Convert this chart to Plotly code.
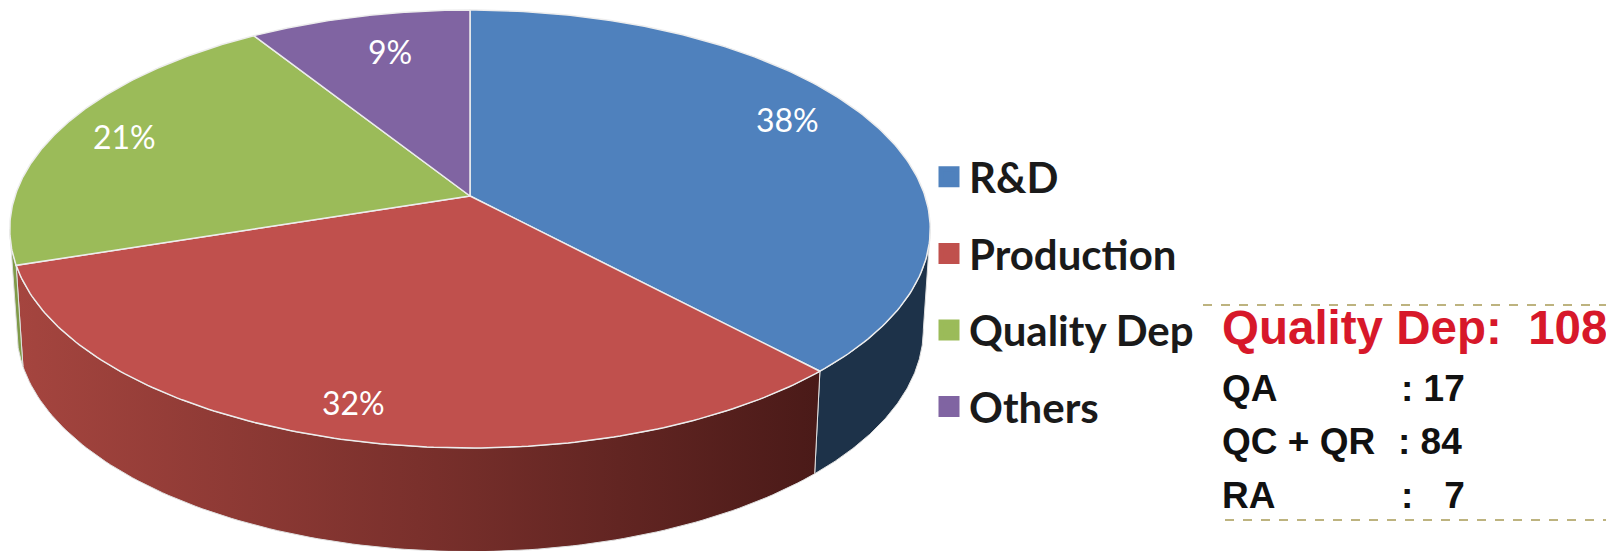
import numpy as np
import plotly.graph_objects as go

departments = ["R&D", "Production", "Quality Dep", "Others"]
shares = [38, 32, 21, 9]
share_labels = ["38%", "32%", "21%", "9%"]
top_colors = ["#4F81BD", "#C0504D", "#9BBB59", "#8064A2"]
wall_colors = [
    [[0, "#1D3249"], [1, "#1D3249"]],
    [[0, "#A5453F"], [0.5, "#7A302C"], [1, "#4A1A18"]],
    [[0, "#7F9A48"], [1, "#7F9A48"]],
    [[0, "#6A5387"], [1, "#6A5387"]],
]
detail_title = "Quality Dep:  108"
detail_names = ["QA", "QC + QR", "RA"]
detail_values = [": 17", ": 84", ":   7"]

# layout constants (page pixels; the page body has an 8 px margin)
PAGE_W, PAGE_H, BODY = 1614, 551, 8
CX, CY, A, B, K = 470.0, 196.0, 214.0, 455.0, 0.1507
DEPTH, SHRINK, BASE_Y_SCALE = 100.0, 0.985, 1.03
LABEL_NUDGE = [(13, -20), (-16, 22), (-36, -7), (4, -8)]
ROW_Y = [388, 441, 495]
ROW_VALUE_X = [1399, 1396, 1399]


def project(theta, lift=0.0, scale=1.0, y_scale=1.0):
    w = 1 + K * np.cos(theta)
    x = CX + scale * B * np.sin(theta) / w
    y = CY - y_scale * scale * A * np.cos(theta) / w + lift
    return x, y


fig = go.Figure()
edges = np.concatenate([[0], np.cumsum(shares)]) / sum(shares) * 2 * np.pi

# walls: only the part of the rim facing the viewer (between silhouette tangents)
tangent = np.arccos(-K)
for i in range(len(shares)):
    lo = max(edges[i], tangent)
    hi = min(edges[i + 1], 2 * np.pi - tangent)
    if hi <= lo:
        continue
    t = np.linspace(lo, hi, 120)
    x1, y1 = project(t)
    x2, y2 = project(t[::-1], DEPTH, SHRINK, BASE_Y_SCALE)
    fig.add_trace(go.Scatter(
        x=np.r_[x1, x2, x1[0]], y=np.r_[y1, y2, y1[0]], mode="lines", fill="toself",
        line=dict(width=1, color="#E0E0E0"), showlegend=False, hoverinfo="skip",
        fillgradient=dict(type="horizontal", colorscale=wall_colors[i]),
    ))

# top face
for i, name in enumerate(departments):
    t = np.linspace(edges[i], edges[i + 1], 160)
    x, y = project(t)
    fig.add_trace(go.Scatter(
        x=np.r_[CX, x, CX], y=np.r_[CY, y, CY], mode="lines", fill="toself",
        fillcolor=top_colors[i], line=dict(color="#EDEDED", width=1.5),
        showlegend=False, hoverinfo="skip",
    ))
    mid = (edges[i] + edges[i + 1]) / 2
    lx, ly = project(np.array([mid]), 0, 0.76)
    fig.add_annotation(x=lx[0] + LABEL_NUDGE[i][0], y=ly[0] + LABEL_NUDGE[i][1],
                       text=share_labels[i], showarrow=False,
                       font=dict(family="Lato", size=32, color="#FFFFFF"))

# legend
for i, name in enumerate(departments):
    fig.add_trace(go.Scatter(
        x=[None], y=[None], mode="markers", name=name, legendgroup=name,
        marker=dict(symbol="square", size=16, color=top_colors[i],
                    line=dict(width=5, color=top_colors[i])),
    ))

# detail panel
fig.add_annotation(x=1220, y=327, text=f"<b>{detail_title}</b>", showarrow=False, xanchor="left",
                   font=dict(family="Liberation Sans", size=47.5, color="#D7182A"))
for name, val, vx, yy in zip(detail_names, detail_values, ROW_VALUE_X, ROW_Y):
    fig.add_annotation(x=1220, y=yy, text=f"<b>{name}</b>", showarrow=False, xanchor="left",
                       font=dict(family="Liberation Sans", size=37, color="#111111"))
    fig.add_annotation(x=vx, y=yy, text=f"<b>{val}</b>", showarrow=False, xanchor="left",
                       font=dict(family="Liberation Sans", size=37, color="#111111"))
for x0, yy in [(1203, 305), (1225, 520)]:
    fig.add_shape(type="line", x0=x0, x1=PAGE_W, y0=yy, y1=yy,
                  line=dict(color="#A89A55", width=1.5, dash="dash"))

fig_w, fig_h = PAGE_W - BODY, PAGE_H - BODY
fig.update_layout(
    width=fig_w, height=fig_h, margin=dict(l=0, r=0, t=0, b=0),
    paper_bgcolor="white", plot_bgcolor="white",
    xaxis=dict(range=[BODY, PAGE_W], visible=False, fixedrange=True),
    yaxis=dict(range=[PAGE_H, BODY], visible=False, fixedrange=True),
    legend=dict(x=(929 - BODY) / fig_w, y=1 - (143 - BODY) / fig_h,
                xanchor="left", yanchor="top",
                font=dict(family="Lato", size=42, color="#1A1A1A", weight=700),
                tracegroupgap=19, bgcolor="rgba(0,0,0,0)"),
)
fig.write_html("out.html")
